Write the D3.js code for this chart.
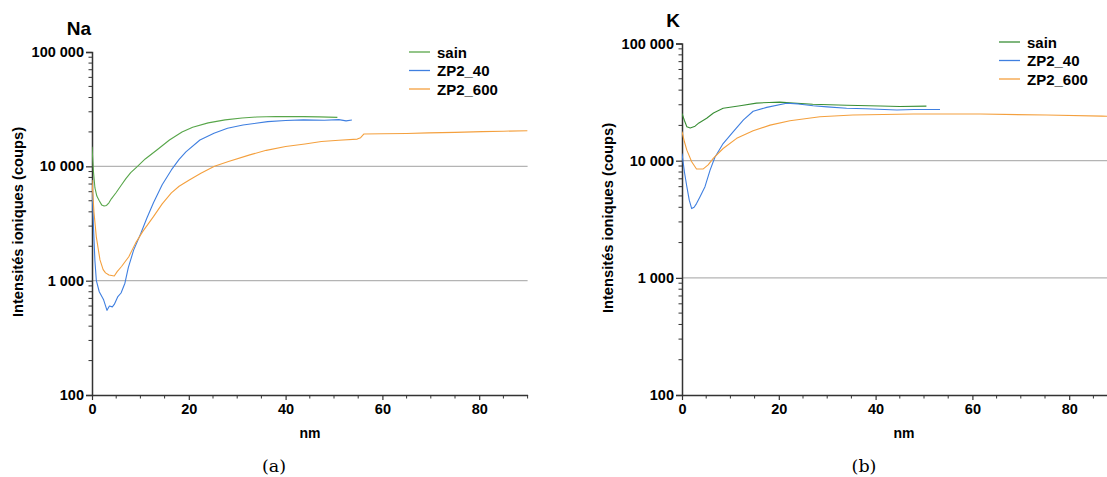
<!DOCTYPE html>
<html><head><meta charset="utf-8">
<script src="https://cdn.jsdelivr.net/npm/d3@7"></script>
<style>body{margin:0;background:#fff}svg{display:block}</style>
</head><body>
<script>
// ---- data ----
const seriesNames = ["sain", "ZP2_40", "ZP2_600"];
const xTicks = [0, 20, 40, 60, 80];
const yTicks = [100, 1000, 10000, 100000];

const naSain = [[0,14800],[0.3,9000],[0.6,6500],[1,5500],[1.5,5000],[2,4600],[2.5,4500],[3,4550],[3.5,4800],[4,5200],[5,5900],[6,6800],[7,7800],[8,8800],[9.4,10000],[11,11600],[13.4,13900],[16,17000],[18.6,20000],[20.8,22000],[24,24000],[27.5,25500],[31,26500],[34,27000],[38,27300],[43.7,27200],[47,27100],[50.7,26800]];
const naZP40 = [[0,7000],[0.3,3000],[0.6,1500],[0.9,1000],[1.5,800],[2.4,680],[3.1,550],[3.6,600],[4.2,590],[4.6,620],[5.3,720],[6,780],[6.8,950],[7.5,1300],[8.6,1850],[10.1,2600],[11.3,3500],[12.7,4800],[14.5,6900],[16.4,9300],[18,11500],[19.4,13400],[22.3,17000],[25.2,19500],[28,21500],[31.2,23000],[36.3,24600],[40,25200],[43.7,25500],[48,25300],[51,25600],[52.5,25000],[53.7,25400]];
const naZP600 = [[0,7600],[0.4,4000],[0.9,2400],[1.65,1520],[2.3,1250],[2.8,1170],[3.5,1120],[4.6,1100],[5.2,1200],[6.1,1330],[7.6,1620],[9,2130],[10.5,2700],[12.7,3630],[14.5,4700],[16.4,5850],[18,6700],[20.1,7600],[22.5,8700],[25.3,10000],[28.2,11000],[32.6,12600],[36,13800],[40,14900],[44,15700],[47.4,16500],[51,16900],[54.8,17300],[55.5,17800],[56.2,19200],[60,19300],[65,19400],[69.5,19600],[75,19800],[80.6,20100],[85,20300],[90,20500]];

const kSain = [[0,25300],[0.5,22000],[1,19500],[1.7,19000],[2.7,19700],[3.5,21000],[5.1,23000],[6.5,25500],[8.5,28000],[12,29400],[15.4,31000],[18,31400],[20.2,31600],[23,31000],[27,30300],[34,29700],[41,29300],[45,29000],[50.5,29200]];
const kZP40 = [[0,11500],[0.5,8000],[1,6000],[1.5,4600],[2,3900],[2.5,4000],[3,4300],[3.7,4900],[4.75,6000],[5.8,8300],[6.8,10700],[8.5,14000],[10.6,17700],[12.7,22300],[14.7,26400],[17.5,28500],[21.6,30900],[24,30500],[27.1,29400],[30,28800],[34,28000],[38,27700],[44.4,27100],[48,27300],[53.3,27300]];
const kZP600 = [[0,17700],[0.5,14500],[1,12300],[2,9800],[3,8500],[4.4,8500],[5.4,9200],[6.5,10500],[8.5,12700],[11.3,15500],[14.7,18000],[18.2,20100],[22.3,21900],[28.5,23700],[35.3,24500],[47.8,25000],[61.6,25000],[75.3,24500],[86.8,24000],[90,23800]];

// ---- drawing ----
const W = 1107, H = 477;
const svg = d3.select("body").append("svg").attr("width", W).attr("height", H);
const fmt = v => d3.format(",")(v).replace(/,/g, " ");
const FONT = "Liberation Sans, Arial, sans-serif";

function panel(o) {
  const x = d3.scaleLinear([0, 90], o.xr);
  const y = d3.scaleLog([100, 100000], o.yr);
  const g = svg.append("g");
  const id = "clip" + o.key;
  svg.append("clipPath").attr("id", id).append("rect")
    .attr("x", o.xr[0]).attr("y", o.yr[1] - 5).attr("width", o.xr[1] - o.xr[0]).attr("height", o.yr[0] - o.yr[1] + 5);

  // grid lines
  g.selectAll("line.grid").data([1000, 10000]).join("line")
    .attr("x1", o.xr[0]).attr("x2", Math.min(o.xr[1], W)).attr("y1", d => y(d)).attr("y2", d => y(d))
    .attr("stroke", "#b4b4b4").attr("stroke-width", 1.2);

  // minor y ticks
  const minors = [];
  for (let e = 100; e < 100000; e *= 10) for (let k = 2; k <= 9; k++) minors.push(e * k);
  g.selectAll("line.my").data(minors).join("line")
    .attr("x1", o.xr[0] - 3.5).attr("x2", o.xr[0]).attr("y1", d => y(d)).attr("y2", d => y(d))
    .attr("stroke", "#333").attr("stroke-width", 1);

  // y axis
  const ya = g.append("g").attr("transform", `translate(${o.xr[0]},0)`)
    .call(d3.axisLeft(y).tickValues(yTicks).tickFormat(fmt).tickSize(6).tickPadding(2));
  ya.select(".domain").attr("stroke", "#333").attr("stroke-width", 1.5);
  ya.selectAll(".tick line").attr("stroke", "#333").attr("stroke-width", 1.2);
  ya.selectAll("text").attr("font-family", FONT).attr("font-weight", "bold").attr("font-size", 14.5).attr("fill", "#000");

  // minor x ticks
  const xm = d3.range(5, 91, 5).filter(v => v % 20 !== 0);
  g.selectAll("line.mx").data(xm).join("line")
    .attr("x1", d => x(d)).attr("x2", d => x(d)).attr("y1", o.yr[0]).attr("y2", o.yr[0] + 3.5)
    .attr("stroke", "#333").attr("stroke-width", 1);

  const xa = g.append("g").attr("transform", `translate(0,${o.yr[0]})`)
    .call(d3.axisBottom(x).tickValues(xTicks).tickSize(5).tickPadding(4).tickSizeOuter(0));
  xa.select(".domain").attr("stroke", "#333").attr("stroke-width", 1.5);
  xa.selectAll(".tick line").attr("stroke", "#333").attr("stroke-width", 1.2);
  xa.selectAll("text").attr("font-family", FONT).attr("font-weight", "bold").attr("font-size", 14.5).attr("fill", "#000");

  // lines
  const line = d3.line().x(d => x(d[0])).y(d => y(d[1]));
  const lg = g.append("g").attr("clip-path", `url(#${id})`);
  o.series.forEach((s, i) => {
    lg.append("path").datum(s).attr("d", line).attr("fill", "none")
      .attr("stroke", o.colors[i]).attr("stroke-width", 1.1).attr("stroke-linejoin", "round");
  });

  // titles
  svg.append("text").attr("x", o.title[1]).attr("y", o.title[2]).attr("text-anchor", "middle")
    .attr("font-family", FONT).attr("font-weight", "bold").attr("font-size", 19).text(o.title[0]);
  svg.append("text").attr("x", o.nmx).attr("y", 438).attr("text-anchor", "middle")
    .attr("font-family", FONT).attr("font-weight", "bold").attr("font-size", 14).text("nm");
  svg.append("text").attr("transform", `translate(${o.ytx},${o.yty}) rotate(-90)`).attr("text-anchor", "middle")
    .attr("font-family", FONT).attr("font-weight", "bold").attr("font-size", 14.7).text("Intensités ioniques (coups)");
  svg.append("text").attr("x", o.cap[1]).attr("y", 472).attr("text-anchor", "middle")
    .attr("font-family", "DejaVu Serif, Liberation Serif, serif").attr("font-size", 17.5).text(o.cap[0]);

  // legend
  seriesNames.forEach((n, i) => {
    const ly = o.leg[1] + i * 18.5;
    svg.append("line").attr("x1", o.leg[0]).attr("x2", o.leg[0] + 21).attr("y1", ly).attr("y2", ly)
      .attr("stroke", o.colors[i]).attr("stroke-width", 1.3);
    svg.append("text").attr("x", o.leg[0] + 28).attr("y", ly + 5.5).attr("font-family", FONT)
      .attr("font-weight", "bold").attr("font-size", 15).text(n);
  });
}

panel({ key: "na", xr: [92, 527.6], yr: [395, 52], series: [naSain, naZP40, naZP600],
  colors: ["#58a64a", "#3f7fe0", "#f4a03e"], title: ["Na", 79, 35], ytx: 23, yty: 222, nmx: 310,
  cap: ["(a)", 274], leg: [409, 52] });
panel({ key: "k", xr: [682, 1117.6], yr: [395, 43.5], series: [kSain, kZP40, kZP600],
  colors: ["#3a8f36", "#3f7fe0", "#f4a03e"], title: ["K", 673, 27], ytx: 613, yty: 218, nmx: 904,
  cap: ["(b)", 864], leg: [999, 42] });
</script>
</body></html>
